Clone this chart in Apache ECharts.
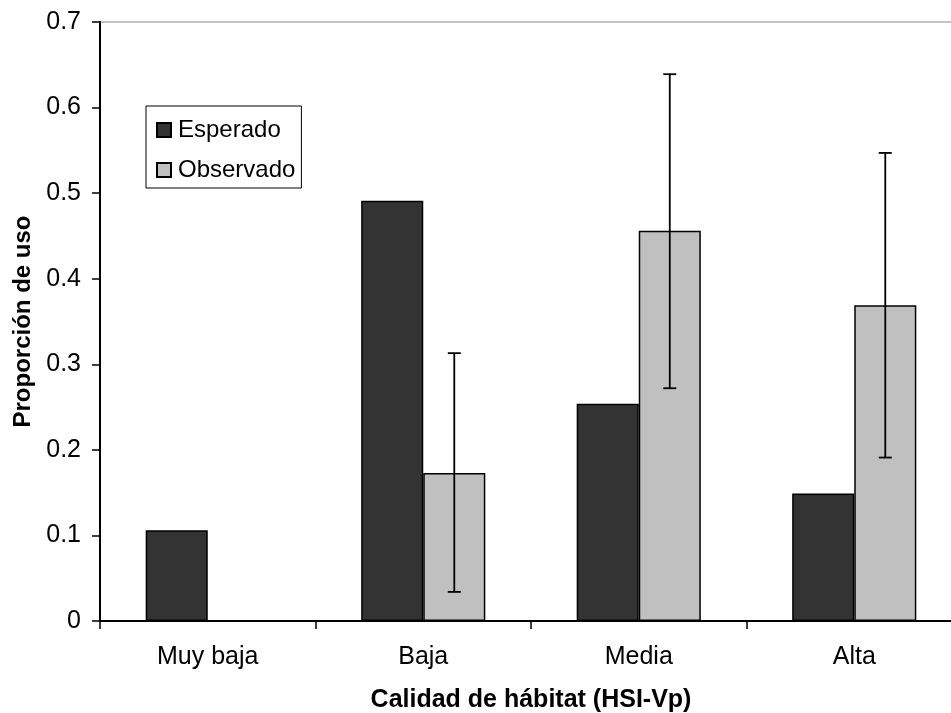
<!DOCTYPE html>
<html>
<head>
<meta charset="utf-8">
<script src="https://cdn.jsdelivr.net/npm/echarts@6/dist/echarts.min.js"></script>
<style>
html,body{margin:0;padding:0;background:#fff;overflow:hidden;}
#chart{width:951px;height:713px;}
</style>
</head>
<body>
<div id="chart"></div>
<script>
var categories = ['Muy baja', 'Baja', 'Media', 'Alta'];
var esperado = [0.106, 0.491, 0.254, 0.149];
var observado = [0, 0.173, 0.456, 0.369];
var errLow = [null, 0.034, 0.272, 0.191];
var errHigh = [null, 0.313, 0.639, 0.547];
var yTicks = [0, 0.1, 0.2, 0.3, 0.4, 0.5, 0.6, 0.7];

var FONT = '"Liberation Sans", Arial, sans-serif';
var BAR_FRAC = 0.288;

var errData = [];
for (var i = 0; i < categories.length; i++) {
  if (errLow[i] != null) errData.push([i, errLow[i], errHigh[i]]);
}

var chart = echarts.init(document.getElementById('chart'), null, {renderer: 'canvas'});
chart.setOption({
  animation: false,
  backgroundColor: '#fff',
  textStyle: {fontFamily: FONT},
  grid: {
    left: 100, top: 22, height: 599, width: 862,
    containLabel: false,
    outerBoundsMode: 'none',
    show: true, borderColor: '#8a8a8a', borderWidth: 1, backgroundColor: 'transparent'
  },
  legend: {
    orient: 'vertical',
    left: 146, top: 106,
    padding: [12, 6, 6, 10],
    backgroundColor: '#fff',
    borderColor: '#000', borderWidth: 1,
    itemWidth: 14, itemHeight: 14, itemGap: 16,
    icon: 'rect',
    textStyle: {fontFamily: FONT, fontSize: 24, color: '#000', lineHeight: 24, padding: [0, 0, 0, 2]},
    data: ['Esperado', 'Observado']
  },
  xAxis: {
    type: 'category',
    data: categories,
    name: 'Calidad de hábitat (HSI-Vp)',
    nameLocation: 'middle',
    nameGap: 67,
    nameTextStyle: {fontFamily: FONT, fontSize: 25, fontWeight: 'bold', color: '#000'},
    axisLine: {lineStyle: {color: '#000', width: 2}},
    axisTick: {show: true, length: 8, lineStyle: {color: '#000', width: 1.5}, alignWithLabel: false},
    axisLabel: {fontFamily: FONT, fontSize: 25, color: '#000', margin: 24},
    splitLine: {show: false}
  },
  yAxis: {
    type: 'value',
    min: 0, max: 0.7, interval: 0.1,
    name: 'Proporción de uso',
    nameLocation: 'middle',
    nameGap: 64,
    nameRotate: 90,
    nameTextStyle: {fontFamily: FONT, fontSize: 24, fontWeight: 'bold', color: '#000'},
    axisLine: {show: true, lineStyle: {color: '#000', width: 2}},
    axisTick: {show: true, length: 8, lineStyle: {color: '#000', width: 1.5}},
    axisLabel: {fontFamily: FONT, fontSize: 25, color: '#000', margin: 19,
      formatter: function (v) { return String(Math.round(v * 10) / 10); }},
    splitLine: {show: false}
  },
  series: [
    {
      name: 'Esperado', type: 'bar', data: esperado,
      barWidth: (BAR_FRAC * 100) + '%', barGap: '0%',
      itemStyle: {color: '#333333', borderColor: '#000', borderWidth: 1.5}
    },
    {
      name: 'Observado', type: 'bar', data: observado,
      barWidth: (BAR_FRAC * 100) + '%', barGap: '0%',
      itemStyle: {color: '#c0c0c0', borderColor: '#000', borderWidth: 1.5}
    },
    {
      name: 'err', type: 'custom', data: errData, z: 10,
      renderItem: function (params, api) {
        var idx = api.value(0);
        var lo = api.coord([idx, api.value(1)]);
        var hi = api.coord([idx, api.value(2)]);
        var band = api.size([1, 0])[0];
        var x = lo[0] + band * BAR_FRAC / 2;
        var cap = 6.5;
        var st = {stroke: '#000', lineWidth: 1.8};
        return {
          type: 'group',
          children: [
            {type: 'line', shape: {x1: x, y1: lo[1], x2: x, y2: hi[1]}, style: st},
            {type: 'line', shape: {x1: x - cap, y1: lo[1], x2: x + cap, y2: lo[1]}, style: st},
            {type: 'line', shape: {x1: x - cap, y1: hi[1], x2: x + cap, y2: hi[1]}, style: st}
          ]
        };
      }
    }
  ]
});
</script>
</body>
</html>
